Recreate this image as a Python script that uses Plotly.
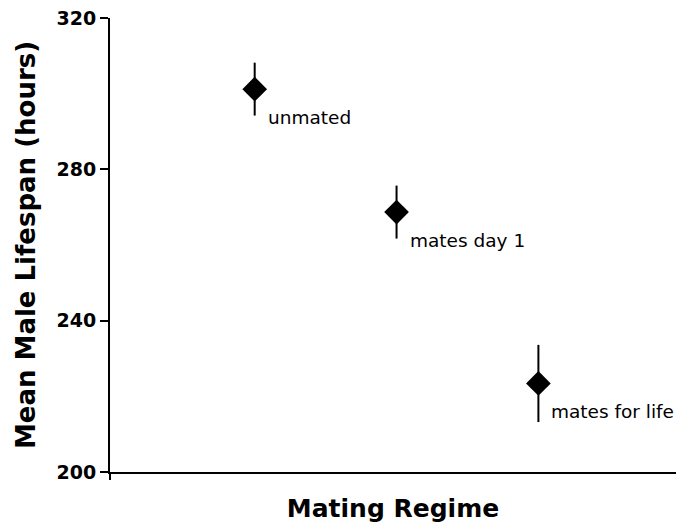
import plotly.graph_objects as go

# data
regimes = ["unmated", "mates day 1", "mates for life"]
positions = [1, 2, 3]
lifespan = [301.2, 268.7, 223.4]
err = [7.0, 7.0, 10.2]

FONT = "Verdana, DejaVu Sans, sans-serif"
X_MIN = -0.02

fig = go.Figure()
fig.add_trace(go.Scatter(
    x=positions, y=lifespan,
    mode="markers",
    marker=dict(symbol="diamond", size=19, color="black"),
    error_y=dict(type="data", array=err, visible=True, color="black",
                 thickness=2, width=0),
    showlegend=False, cliponaxis=False,
))

# labels sit just below-right of each diamond
for xv, yv, name in zip(positions, lifespan, regimes):
    fig.add_annotation(x=xv, y=yv, text=name, showarrow=False,
                       xanchor="left", yanchor="middle", xshift=11, yshift=-28,
                       font=dict(family=FONT, size=18.5, color="black"))

fig.update_layout(
    width=676, height=523,
    paper_bgcolor="white", plot_bgcolor="white",
    margin=dict(l=110, r=0, t=18, b=51),
    font=dict(family=FONT, color="black"),
    xaxis=dict(
        range=[X_MIN, 3.97], showgrid=False, zeroline=False,
        showline=True, linecolor="black", linewidth=2,
        ticks="outside", tickvals=[X_MIN], ticktext=[""],
        ticklen=6, tickwidth=2, tickcolor="black",
        title=dict(text="<b>Mating Regime</b>", font=dict(size=25), standoff=19),
    ),
    yaxis=dict(
        range=[200, 320], tickvals=[200, 240, 280, 320],
        ticktext=["<b>%d</b>" % v for v in [200, 240, 280, 320]],
        tickfont=dict(size=19), showgrid=False, zeroline=False,
        showline=True, linecolor="black", linewidth=2,
        ticks="outside", ticklen=8, tickwidth=2, tickcolor="black",
        title=dict(text="<b>Mean Male Lifespan (hours)</b>", font=dict(size=26),
                   standoff=13),
    ),
)

fig.write_html("out.html", config={"displayModeBar": False},
               post_script="document.body.style.margin='0';"
                           "document.body.style.overflow='hidden';")
